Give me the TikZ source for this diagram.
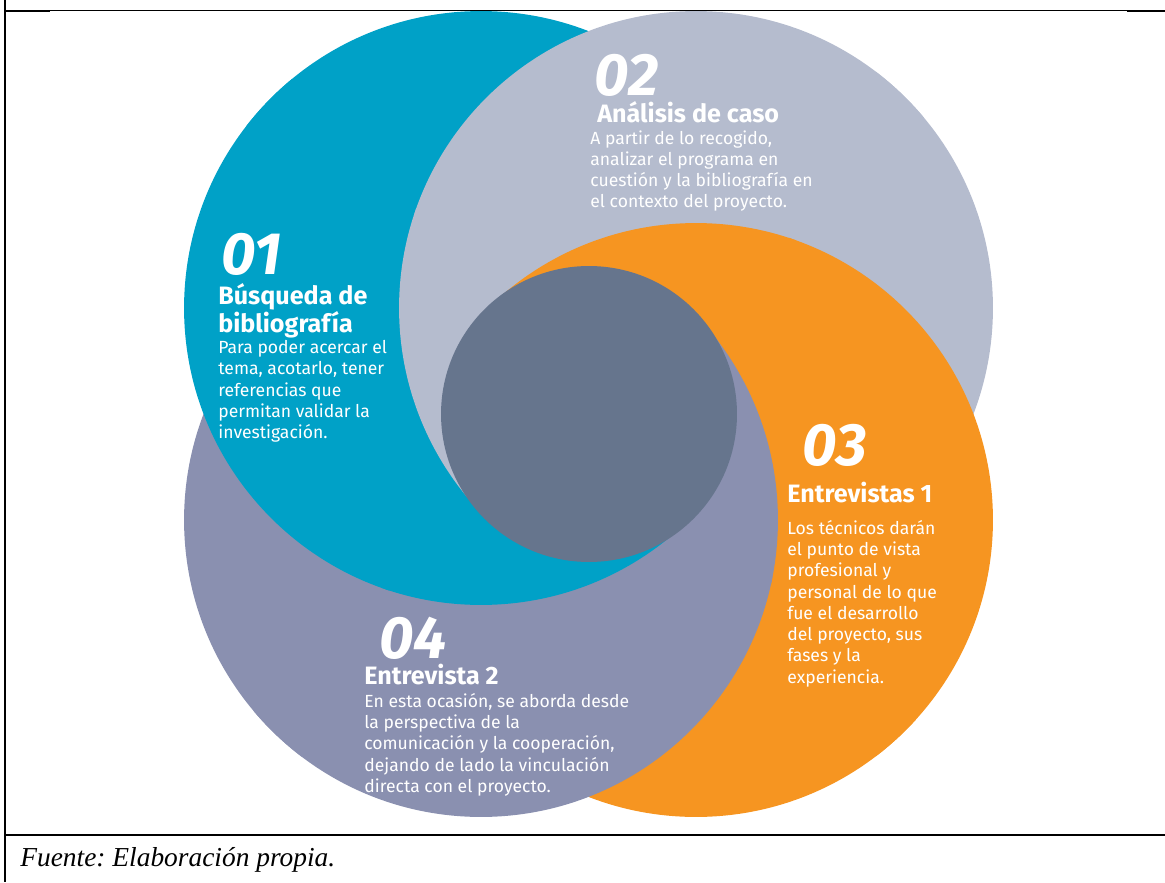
\documentclass[tikz,border=0pt]{standalone}
\usepackage{fontspec}
\setmainfont{Liberation Serif}
\newfontfamily\fira{Fira Sans}
\frenchspacing
\definecolor{azul}{RGB}{0,161,199}
\definecolor{gris}{RGB}{181,188,206}
\definecolor{naranja}{RGB}{246,149,33}
\definecolor{lila}{RGB}{138,144,176}
\definecolor{centro}{RGB}{102,117,141}
\tikzset{
  num/.style={anchor=north west, inner sep=0pt, text=white, font=\fira\bfseries\itshape\fontsize{34}{34}\selectfont},
  titulo/.style={anchor=north west, inner sep=0pt, text=white, align=left, font=\fira\bfseries\fontsize{14.3}{16}\selectfont},
  cuerpo/.style={anchor=north west, inner sep=0pt, text=white, align=left, font=\fira\fontsize{10}{12.1}\selectfont},
}
\def\R{5.94cm}
% un circulo recortado a un sector alrededor del centro
\newcommand\capa[4]{%
  \begin{scope}
    \clip (c0) -- +(#3:1500) -- +({(#3+#4)/2}:2200) -- +(#4:1500) -- cycle;
    \fill[#1] (#2) circle (\R);
  \end{scope}}
\begin{document}
\begin{tikzpicture}[x=0.02cm,y=-0.02cm]
\useasboundingbox (0,0) rectangle (1165,882);
\coordinate (c1) at (481,308);
\coordinate (c2) at (696,308);
\coordinate (c3) at (696,520);
\coordinate (c4) at (481,520);
\coordinate (c0) at (589,414);

% derecha
\capa{azul}{c1}{-50}{50}
\capa{gris}{c2}{-50}{50}
\capa{naranja}{c3}{-50}{50}
\capa{lila}{c4}{-50}{50}
% arriba
\capa{lila}{c4}{-140}{-44.5}
\capa{azul}{c1}{-140}{-43}
\capa{gris}{c2}{-140}{-41.5}
\capa{naranja}{c3}{-140}{-40}
% izquierda
\capa{naranja}{c3}{130}{225.5}
\capa{lila}{c4}{130}{227}
\capa{azul}{c1}{130}{228.5}
\capa{gris}{c2}{130}{230}
% abajo
\capa{gris}{c2}{44.5}{135.5}
\capa{naranja}{c3}{43}{137}
\capa{lila}{c4}{41.5}{138.5}
\capa{azul}{c1}{40}{140}
% centro
\fill[centro] (c0) circle (2.96cm);

% textos
\node[num] (n1) at (221,233) {01};
\node[titulo] (t1) at (218,283) {B\'usqueda de\\bibliograf\'ia};
\node[cuerpo] (d1) at (218,340) {Para poder acercar el\\tema, acotarlo, tener\\referencias que\\permitan validar la\\investigaci\'on.};

\node[num] (n2) at (594,54) {02};
\node[titulo] (t2) at (597,101) {An\'alisis de caso};
\node[cuerpo] (d2) at (590,130) {A partir de lo recogido,\\analizar el programa en\\cuesti\'on y la bibliograf\'ia en\\el contexto del proyecto.};

\node[num] (n3) at (802,424) {03};
\node[titulo] (t3) at (787,482) {Entrevistas 1};
\node[cuerpo] (d3) at (787,520) {Los t\'ecnicos dar\'an\\el punto de vista\\profesional y\\personal de lo que\\fue el desarrollo\\del proyecto, sus\\fases y la\\experiencia.};

\node[num] (n4) at (379,617) {04};
\node[titulo] (t4) at (364,664) {Entrevista 2};
\node[cuerpo] (d4) at (364,693) {En esta ocasi\'on, se aborda desde\\la perspectiva de la\\comunicaci\'on y la cooperaci\'on,\\dejando de lado la vinculaci\'on\\directa con el proyecto.};

% marco
\draw[line width=1.1pt] (5,0) -- (5,882);
\draw[line width=0.6pt] (5,10.5) -- (1165,10.5);
\draw[line width=1.1pt] (5,11) -- (50,11) (1127,11) -- (1165,11);
\draw[line width=1.3pt] (5,835) -- (1165,835);
\node[anchor=base west, inner sep=0pt, font=\itshape\fontsize{15.6}{19}\selectfont] (fuente) at (20,866) {Fuente: Elaboraci\'on propia.};
\end{tikzpicture}
\end{document}
